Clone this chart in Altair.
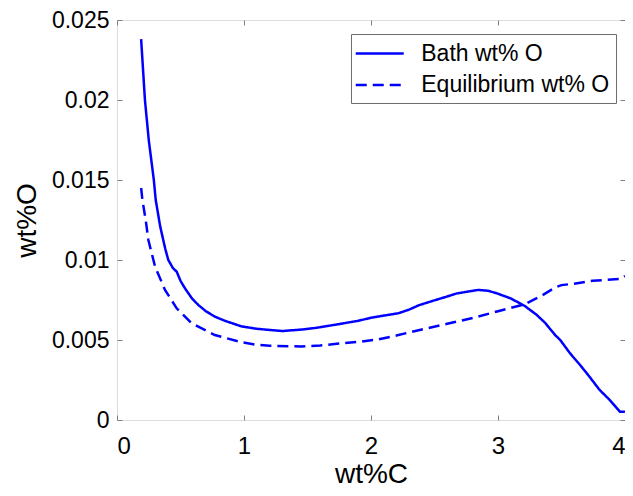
import altair as alt
import pandas as pd

series_names = ["Bath wt% O", "Equilibrium wt% O"]

bath_c = [0.19, 0.22, 0.25, 0.29, 0.305, 0.34, 0.36, 0.38, 0.404, 0.44, 0.47, 0.50, 0.535,
          0.59, 0.64, 0.70, 0.77, 0.85, 0.98, 1.10, 1.30, 1.45, 1.56, 1.73, 1.90, 2.00,
          2.12, 2.215, 2.30, 2.376, 2.50, 2.60, 2.67, 2.78, 2.846, 2.92, 2.99, 3.10,
          3.21, 3.30, 3.37, 3.45, 3.49, 3.567, 3.646, 3.71, 3.80, 3.88, 3.96, 4.00]
bath_o = [0.0238, 0.0200, 0.0175, 0.0150, 0.01375, 0.0121, 0.0114, 0.0107, 0.0100, 0.0095,
          0.00927, 0.0087, 0.00823, 0.0076, 0.00719, 0.0068, 0.00646, 0.0062, 0.00585,
          0.0057, 0.00556, 0.00565, 0.00575, 0.00597, 0.0062, 0.00639, 0.00655, 0.00667,
          0.0069, 0.00717, 0.00748, 0.00772, 0.0079, 0.00805, 0.00813, 0.00808, 0.00792,
          0.0076, 0.00713, 0.0066, 0.00608, 0.00531, 0.0050, 0.00417, 0.00344, 0.00281,
          0.00188, 0.00125, 0.00052, 0.00052]

eq_c = [0.19, 0.20, 0.226, 0.247, 0.30, 0.378, 0.47, 0.588, 0.77, 0.98, 1.10, 1.20, 1.36,
        1.45, 1.60, 1.73, 1.90, 2.05, 2.20, 2.40, 2.60, 2.81, 3.00, 3.21, 3.35, 3.45, 3.50,
        3.60, 3.745, 3.96, 4.00]
eq_o = [0.0145, 0.01375, 0.0125, 0.01125, 0.00958, 0.00813, 0.00698, 0.00604, 0.00531,
        0.00486, 0.0047, 0.00464, 0.00461, 0.0046, 0.00466, 0.00476, 0.00488, 0.00503,
        0.00528, 0.00566, 0.00601, 0.00639, 0.0068, 0.00723, 0.0078, 0.00828, 0.00843,
        0.00852, 0.0087, 0.00881, 0.0090]

x_ticks = [0, 1, 2, 3, 4]
y_ticks = [0, 0.005, 0.01, 0.015, 0.02, 0.025]

df = pd.concat([
    pd.DataFrame({"c": bath_c, "o": bath_o, "series": series_names[0],
                  "idx": list(range(len(bath_c)))}),
    pd.DataFrame({"c": eq_c, "o": eq_o, "series": series_names[1],
                  "idx": list(range(len(eq_c)))}),
])

W, H = 508, 400
GRAY = "#808080"
FONT = "Liberation Sans"

xscale = alt.Scale(domain=[0, 4], nice=False, zero=False)
yscale = alt.Scale(domain=[0, 0.025], nice=False)

base = alt.Chart(df)

main = base.mark_line(strokeWidth=2.5, color="#0000ff", clip=True).encode(
    x=alt.X("c:Q", scale=xscale,
            axis=alt.Axis(title="wt%C", values=x_ticks, ticks=False, tickSize=0, domain=False,
                          grid=False, labelFontSize=24, titleFontSize=28, labelPadding=14,
                          titlePadding=2, labelColor="black", titleColor="black",
                          titleFontWeight="normal", labelFont=FONT, titleFont=FONT)),
    y=alt.Y("o:Q", scale=yscale,
            axis=alt.Axis(title="wt%O", values=y_ticks, format="~g", ticks=False, tickSize=0,
                          domain=False, grid=False, labelFontSize=23, titleFontSize=28,
                          labelPadding=8, titlePadding=10, labelColor="black",
                          titleColor="black", titleFontWeight="normal", labelFont=FONT,
                          titleFont=FONT)),
    strokeDash=alt.StrokeDash(
        "series:N",
        scale=alt.Scale(domain=series_names, range=[[1, 0], [11, 6]]),
        legend=alt.Legend(title=None, orient="none", legendX=234, legendY=14,
                          direction="vertical", symbolType="M-2,0H2", symbolSize=576,
                          symbolStrokeWidth=2.5, symbolStrokeColor="#0000ff",
                          symbolFillColor="transparent", symbolOffset=9.25,
                          labelFontSize=23, labelFont=FONT, labelColor="black",
                          labelOffset=28, labelLimit=400, padding=6, rowPadding=5.5,
                          strokeColor="#6e6e6e", fillColor="white"),
    ),
    order=alt.Order("idx:Q"),
)


def tick_axis(orient, offset, values):
    return alt.Axis(orient=orient, offset=offset, values=values, labels=False, title=None,
                    domain=False, grid=False, ticks=True, tickSize=5, tickColor=GRAY,
                    tickWidth=1)


# inward-pointing ticks on all four sides (axes moved across the plot with negative offsets)
ticks_a = base.mark_line(opacity=0).encode(
    x=alt.X("c:Q", scale=xscale, axis=tick_axis("top", -H, x_ticks)),
    y=alt.Y("o:Q", scale=yscale, axis=tick_axis("right", -W, y_ticks)),
    detail="series:N",
)

ticks_b = base.mark_line(opacity=0).encode(
    x=alt.X("c:Q", scale=xscale, axis=tick_axis("bottom", -H, x_ticks)),
    y=alt.Y("o:Q", scale=yscale, axis=tick_axis("left", -W, y_ticks)),
    detail="series:N",
)

chart = alt.layer(main, ticks_a, ticks_b).resolve_axis(
    x="independent", y="independent"
).properties(
    width=W, height=H,
    autosize=alt.AutoSizeParams(type="none"),
    padding={"left": 109, "top": 12, "right": 0, "bottom": 68},
    background="white",
).configure_view(
    stroke=GRAY, strokeWidth=1
).configure(font=FONT)

chart.save("out.html", embed_options={"renderer": "svg", "actions": False})
